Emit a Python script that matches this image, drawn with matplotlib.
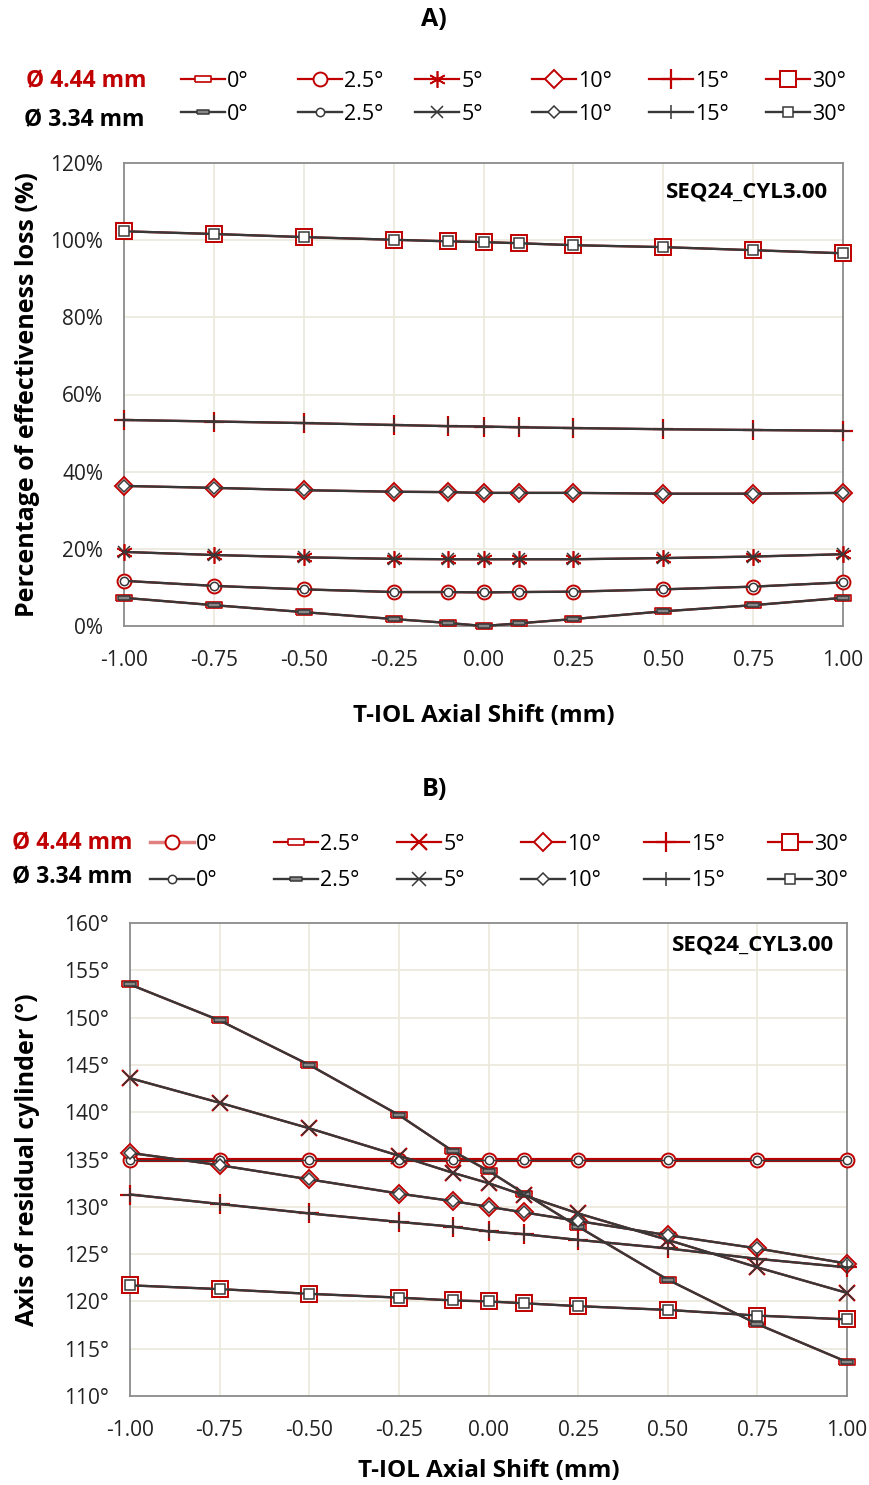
import matplotlib
matplotlib.use("Agg")
import matplotlib.pyplot as plt
from matplotlib.lines import Line2D
from matplotlib.ticker import FuncFormatter, MultipleLocator

plt.rcParams["font.family"] = ["Open Sans", "DejaVu Sans"]

# T-IOL axial shift (mm), shared by both panels
shift = [-1.00, -0.75, -0.50, -0.25, -0.10, 0.00, 0.10, 0.25, 0.50, 0.75, 1.00]
angles = ["0°", "2.5°", "5°", "10°", "15°", "30°"]

# Panel A: effectiveness loss (%) - both pupil diameters overlap at this scale
loss_0 = [7.3, 5.4, 3.6, 1.8, 0.8, 0.0, 0.7, 1.8, 3.8, 5.4, 7.3]
loss_2_5 = [11.7, 10.4, 9.5, 8.8, 8.8, 8.7, 8.8, 8.9, 9.5, 10.2, 11.3]
loss_5 = [19.2, 18.4, 17.8, 17.4, 17.3, 17.3, 17.3, 17.3, 17.6, 18.0, 18.6]
loss_10 = [36.3, 35.8, 35.2, 34.8, 34.7, 34.5, 34.5, 34.5, 34.3, 34.3, 34.5]
loss_15 = [53.4, 53.0, 52.6, 52.1, 51.8, 51.7, 51.5, 51.3, 51.0, 50.8, 50.6]
loss_30 = [102.3, 101.6, 100.8, 100.1, 99.7, 99.5, 99.2, 98.7, 98.2, 97.4, 96.6]

# Panel B: axis of residual cylinder (deg)
axis_0 = [135.0, 135.0, 135.0, 135.0, 135.0, 135.0, 135.0, 135.0, 135.0, 135.0, 135.0]
axis_2_5 = [153.5, 149.7, 145.0, 139.7, 135.9, 133.8, 131.4, 127.9, 122.3, 117.6, 113.6]
axis_5 = [143.6, 141.0, 138.3, 135.4, 133.6, 132.5, 131.2, 129.3, 126.5, 123.6, 120.9]
axis_10 = [135.7, 134.4, 132.9, 131.4, 130.6, 130.0, 129.4, 128.5, 127.0, 125.6, 124.0]
axis_15 = [131.3, 130.3, 129.3, 128.4, 127.9, 127.4, 127.1, 126.5, 125.6, 124.5, 123.6]
axis_30 = [121.7, 121.3, 120.8, 120.4, 120.1, 120.0, 119.8, 119.5, 119.1, 118.5, 118.1]

RED = "#c00000"
DARK = "#383838"
GRID = "#ebe8dc"
SPINE = "#8c8c8c"
W, H = 869, 1485

RECT = [(-2.6, -1), (2.6, -1), (2.6, 1), (-2.6, 1), (-2.6, -1)]
STAR = (6, 2, 0)

# (red marker, black marker, red size, black size, red edge width, black face)
STYLE_A = [
    (RECT, RECT, 11, 8, 1.2, "#888888"),
    ("o", "o", 10, 6, 1.4, "white"),
    (STAR, "x", 12, 9, 1.2, "white"),
    ("D", "D", 9, 6, 1.4, "white"),
    ("+", "+", 14, 10, 1.6, "white"),
    ("s", "s", 12, 7, 1.4, "white"),
]
STYLE_B = [
    ("o", "o", 10, 6, 1.4, "white"),
    (RECT, RECT, 11, 8, 1.2, "#888888"),
    ("x", "x", 12, 10, 1.6, "white"),
    ("D", "D", 9, 6, 1.4, "white"),
    ("+", "+", 14, 10, 1.6, "white"),
    ("s", "s", 12, 7, 1.4, "white"),
]


def red_kw(style, lw=1.6, color=RED):
    marker, _, rsize, _, rew, _ = style
    return dict(color=color, lw=lw, marker=marker, markersize=rsize,
                markeredgecolor=RED, markerfacecolor="white", markeredgewidth=rew)


def black_kw(style):
    _, marker, _, bsize, _, face = style
    return dict(color=DARK, lw=1.7, marker=marker, markersize=bsize,
                markeredgecolor=DARK, markerfacecolor=face, markeredgewidth=1.1)


def style_axes(ax, ymin, ymax, step, fmt, label_x, xlabel_pad, tag_xy):
    ax.set_xlim(-1.0, 1.0)
    ax.set_ylim(ymin, ymax)
    ax.xaxis.set_major_locator(MultipleLocator(0.25))
    ax.yaxis.set_major_locator(MultipleLocator(step))
    ax.xaxis.set_major_formatter(FuncFormatter(lambda v, p: f"{v:.2f}"))
    ax.yaxis.set_major_formatter(FuncFormatter(fmt))
    ax.grid(True, color=GRID, lw=1.2)
    ax.set_axisbelow(True)
    for side in ax.spines.values():
        side.set_color(SPINE)
        side.set_linewidth(1.3)
    ax.tick_params(length=0, labelsize=15, colors="#222222")
    ax.tick_params(axis="y", pad=15)
    ax.tick_params(axis="x", pad=17)
    ax.set_xlabel("T-IOL Axial Shift (mm)", fontsize=17.5, fontweight="bold",
                  labelpad=xlabel_pad)
    ax.yaxis.set_label_coords(label_x, 0.5)
    ax.text(tag_xy[0], tag_xy[1], "SEQ24_CYL3.00", transform=ax.transAxes, ha="right",
            va="center", fontsize=16, fontweight="bold")


def legend_block(fig, styles, x0, dx, ytop, rowgap, red_line_kw):
    for i, (label, style) in enumerate(zip(angles, styles)):
        rk = red_kw(style)
        rk.update(red_line_kw.get(i, {}))
        handles = [Line2D([], [], **rk), Line2D([], [], **black_kw(style))]
        fig.legend(handles=handles, labels=[label, label], loc="upper left",
                   bbox_to_anchor=((x0 + dx * i) / W, 1 - ytop / H), frameon=False,
                   fontsize=15.5, borderpad=0, borderaxespad=0, handlelength=2.05,
                   handletextpad=0.1, labelspacing=rowgap)


fig = plt.figure(figsize=(W / 100, H / 100), dpi=100)

# ---- Panel A
ax_a = fig.add_axes([124 / W, 1 - 626 / H, 719 / W, 463 / H])
series_a = [loss_0, loss_2_5, loss_5, loss_10, loss_15, loss_30]
for vals, style in zip(series_a, STYLE_A):
    ax_a.plot(shift, vals, clip_on=False, zorder=3, **red_kw(style))
for vals, style in zip(series_a, STYLE_A):
    ax_a.plot(shift, vals, clip_on=False, zorder=4, **black_kw(style))
ax_a.set_ylabel("Percentage of effectiveness loss (%)", fontsize=18, fontweight="bold")
style_axes(ax_a, 0, 120, 20, lambda v, p: f"{v:.0f}%", (40 - 124) / 719, 24, (0.979, 0.937))

fig.text(434 / W, 1 - 20 / H, "A)", ha="center", va="center", fontsize=18, fontweight="bold")
fig.text(86 / W, 1 - 81 / H, "Ø 4.44 mm", color=RED, ha="center", va="center",
         fontsize=16.5, fontweight="bold")
fig.text(84 / W, 1 - 120 / H, "Ø 3.34 mm", color="black", ha="center", va="center",
         fontsize=16.5, fontweight="bold")
legend_block(fig, STYLE_A, 181, 117, 71, 0.55, {})

# ---- Panel B
ax_b = fig.add_axes([130 / W, 1 - 1396 / H, 717 / W, 473 / H])
series_b = [axis_0, axis_2_5, axis_5, axis_10, axis_15, axis_30]
for i, (vals, style) in enumerate(zip(series_b, STYLE_B)):
    kw = red_kw(style, lw=3.0 if i == 0 else 1.6)
    ax_b.plot(shift, vals, clip_on=False, zorder=3, **kw)
for i, (vals, style) in enumerate(zip(series_b, STYLE_B)):
    kw = black_kw(style)
    if i == 0:
        kw["lw"] = 1.0
    ax_b.plot(shift, vals, clip_on=False, zorder=4, **kw)
ax_b.set_ylabel("Axis of residual cylinder (°)", fontsize=18, fontweight="bold")
style_axes(ax_b, 110, 160, 5, lambda v, p: f"{v:.0f}°", (40 - 130) / 717, 13, (0.982, 0.953))

fig.text(434 / W, 1 - 790 / H, "B)", ha="center", va="center", fontsize=18, fontweight="bold")
fig.text(72 / W, 1 - 843 / H, "Ø 4.44 mm", color=RED, ha="center", va="center",
         fontsize=16.5, fontweight="bold")
fig.text(72 / W, 1 - 877 / H, "Ø 3.34 mm", color="black", ha="center", va="center",
         fontsize=16.5, fontweight="bold")
legend_block(fig, STYLE_B, 150, 123.6, 834, 0.7, {0: dict(color="#e08080", lw=2.5)})

fig.savefig("out.png", dpi=100)
